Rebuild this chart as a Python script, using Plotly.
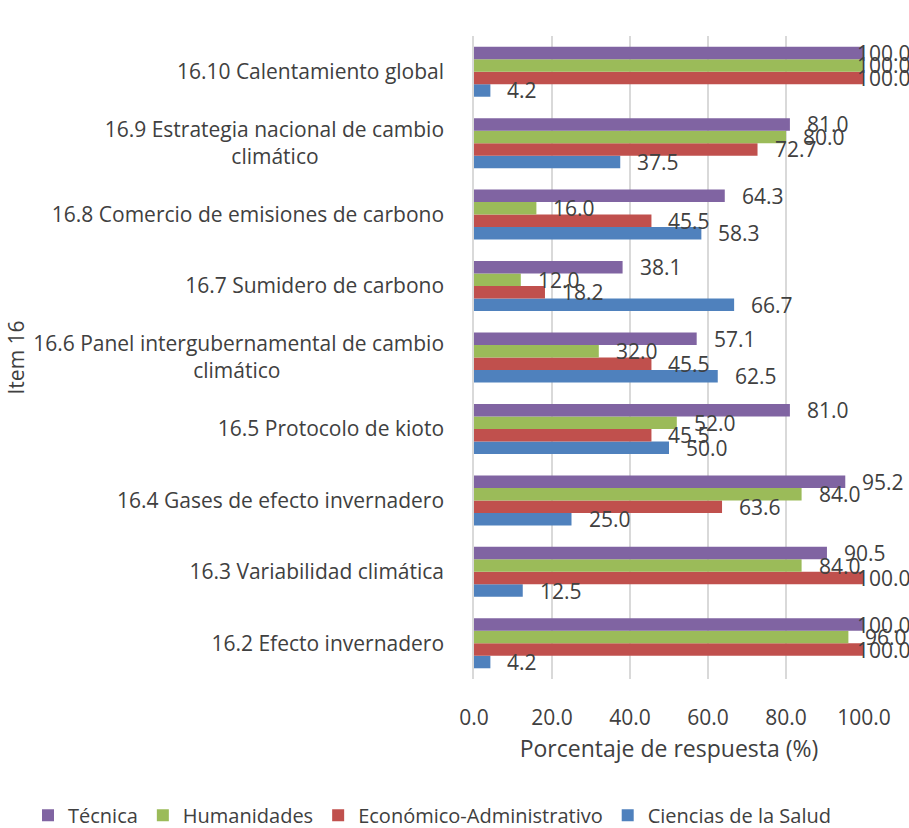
import plotly.graph_objects as go

NB = "\u00a0"
categories = [
    "16.2 Efecto invernadero",
    "16.3 Variabilidad climática",
    "16.4 Gases de efecto invernadero",
    "16.5 Protocolo de kioto",
    "16.6 Panel intergubernamental de cambio<br>climático" + NB * 30,
    "16.7 Sumidero de carbono",
    "16.8 Comercio de emisiones de carbono",
    "16.9 Estrategia nacional de cambio<br>climático" + NB * 23,
    "16.10 Calentamiento global",
]
series_names = ["Ciencias de la Salud", "Económico-Administrativo", "Humanidades", "Técnica"]
ciencias = [4.2, 12.5, 25.0, 50.0, 62.5, 66.7, 58.3, 37.5, 4.2]
economico = [100.0, 100.0, 63.6, 45.5, 45.5, 18.2, 45.5, 72.7, 100.0]
humanidades = [96.0, 84.0, 84.0, 52.0, 32.0, 12.0, 16.0, 80.0, 100.0]
tecnica = [100.0, 90.5, 95.2, 81.0, 57.1, 38.1, 64.3, 81.0, 100.0]
x_ticks = [0, 20, 40, 60, 80, 100]

colors = ["#4F81BD", "#C0504D", "#9BBB59", "#8064A2"]
values = [ciencias, economico, humanidades, tecnica]

FONT = "Open Sans"
TXT = "#404040"
FS = 21

fig = go.Figure()
for name, vals, col in zip(series_names, values, colors):
    fig.add_trace(go.Bar(
        y=categories, x=vals, name=name, orientation="h",
        marker=dict(color=col, line=dict(width=0)),
    ))

bar_px = 12.5
annotations = []
for i, vals in enumerate(values):
    for cat, v in zip(categories, vals):
        annotations.append(dict(
            x=v, y=cat, xref="x", yref="y", text=f"{v:.1f}",
            showarrow=False, xanchor="left", yanchor="middle",
            xshift=(-9 if v >= 99 else 15), yshift=(i - 1.5) * bar_px,
            font=dict(family=FONT, size=FS, color=TXT),
        ))

annotations.append(dict(
    text="Item 16", xref="paper", yref="paper", x=(15 - 474) / 390, y=0.5,
    textangle=-90, showarrow=False, xanchor="center", yanchor="middle",
    font=dict(family=FONT, size=FS, color=TXT),
))

fig.update_layout(
    width=909, height=828,
    margin=dict(l=474, r=45, t=36, b=149, autoexpand=False),
    paper_bgcolor="white", plot_bgcolor="white",
    barmode="group", bargap=0.3, bargroupgap=0,
    font=dict(family=FONT, size=FS, color=TXT),
    showlegend=True,
    legend=dict(
        orientation="h", traceorder="reversed",
        x=(28 - 474) / 390, xanchor="left", y=-0.212, yanchor="middle",
        font=dict(family=FONT, size=20, color=TXT),
    ),
    annotations=annotations,
    xaxis=dict(
        range=[0, 100], tickvals=x_ticks, tickformat=".1f",
        showgrid=True, gridcolor="#D9D9D9", gridwidth=1.5,
        zeroline=False, showline=False,
        ticks="outside", ticklen=20, tickcolor="rgba(0,0,0,0)",
        title=dict(text="Porcentaje de respuesta (%)", standoff=10,
                   font=dict(family=FONT, size=23, color=TXT)),
        fixedrange=True,
    ),
    yaxis=dict(
        showgrid=False, zeroline=False, showline=True,
        linecolor="#D9D9D9", linewidth=1.5, ticks="",
        ticklabelstandoff=24, fixedrange=True,
    ),
)

fig.write_html("out.html")
